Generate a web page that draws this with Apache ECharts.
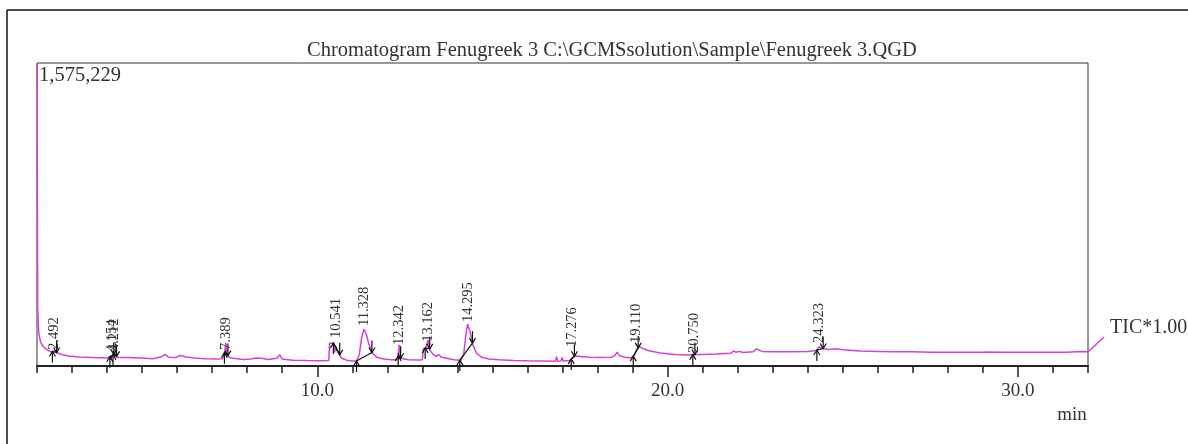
<!DOCTYPE html>
<html>
<head>
<meta charset="utf-8">
<title>Chromatogram Fenugreek 3</title>
<script src="https://cdn.jsdelivr.net/npm/echarts@6/dist/echarts.min.js"></script>
<style>
  html, body { margin: 0; padding: 0; background: #fff; }
  #chart { width: 1188px; height: 444px; }
</style>
</head>
<body>
<div id="chart"></div>
<script>
// 色谱图数据 (时间 min / 强度)
var yMax = 1575229;
var timeMin = [
  2.00, 2.02, 2.05, 2.10, 2.18, 2.30, 2.40, 2.49, 2.56, 2.70, 2.90, 3.20, 3.60, 4.00, 4.10, 4.15, 4.21, 4.30, 4.60,
  5.00, 5.30, 5.55, 5.65, 5.75, 5.95, 6.10, 6.15, 6.25, 6.50, 6.80, 7.10, 7.30, 7.36, 7.39, 7.42, 7.50, 7.60, 7.90,
  8.10, 8.25, 8.40, 8.60, 8.85, 8.93, 9.00, 9.30, 9.70, 10.00, 10.33, 10.35, 10.47, 10.49, 10.54, 10.60, 10.70, 10.85,
  11.00, 11.12, 11.20, 11.27, 11.33, 11.40, 11.48, 11.56, 11.70, 11.90, 12.10, 12.30, 12.34, 12.38, 12.60, 12.90,
  13.00, 13.03, 13.10, 13.16, 13.22, 13.30, 13.40, 13.46, 13.55, 13.70, 13.90, 14.10, 14.18, 14.24, 14.29, 14.36,
  14.44, 14.55, 14.70, 14.90, 15.20, 15.60, 16.00, 16.40, 16.80, 16.83, 16.86, 16.95, 16.99, 17.02, 17.20, 17.28,
  17.35, 17.50, 17.80, 18.10, 18.40, 18.50, 18.56, 18.62, 18.75, 18.95, 19.05, 19.12, 19.20, 19.30, 19.50, 19.80,
  20.20, 20.60, 20.75, 21.00, 21.40, 21.80, 21.88, 21.95, 22.05, 22.15, 22.45, 22.52, 22.60, 22.70, 23.00, 23.50,
  24.00, 24.25, 24.32, 24.40, 24.60, 24.80, 25.00, 25.50, 26.00, 26.50, 27.00, 27.50, 28.00, 28.05, 28.15, 28.60,
  29.00, 29.05, 29.15, 29.60, 30.20, 30.80, 31.40, 31.80, 32.00
];
var intensity = [
  1575229, 300000, 171000, 125000, 100000, 83000, 73000, 78000, 70000, 60000, 52000, 47000, 44000, 42000, 50000, 57000, 62000, 44000, 44000,
  41000, 38000, 48000, 60000, 46000, 44000, 55000, 65000, 47000, 42000, 38000, 36000, 38000, 75000, 120000, 60000, 44000, 40000, 34000,
  36000, 42000, 40000, 34000, 40000, 58000, 36000, 30000, 28000, 27000, 28000, 118000, 120000, 70000, 100000, 70000, 40000, 30000,
  26000, 26000, 60000, 150000, 192000, 165000, 110000, 70000, 45000, 36000, 32000, 33000, 110000, 40000, 32000, 31000,
  33000, 90000, 95000, 135000, 80000, 62000, 50000, 60000, 45000, 40000, 33000, 30000, 60000, 160000, 218000, 180000,
  110000, 65000, 45000, 36000, 32000, 29000, 27000, 26000, 25000, 48000, 25000, 26000, 44000, 26000, 28000, 42000,
  52000, 50000, 46000, 44000, 46000, 55000, 72000, 55000, 47000, 42000, 55000, 88000, 100000, 90000, 78000, 68000,
  60000, 57000, 60000, 60000, 62000, 66000, 78000, 72000, 76000, 70000, 74000, 88000, 84000, 76000, 74000, 74000,
  76000, 80000, 100000, 92000, 86000, 90000, 84000, 78000, 76000, 74000, 74000, 72000, 72000, 80000, 72000, 71000,
  72000, 82000, 73000, 72000, 71000, 71000, 72000, 76000, 74000
];

// 峰表
var peakNames = ["2.492", "4.154", "4.212", "7.389", "10.541", "11.328", "12.342", "13.162", "14.295", "17.276", "19.110", "20.750", "24.323"];
var peakRT    = [2.492, 4.154, 4.212, 7.389, 10.541, 11.328, 12.342, 13.162, 14.295, 17.276, 19.110, 20.750, 24.323];
var peakStart = [2.44, 4.08, 4.17, 7.35, 10.46, 11.12, 12.31, 13.08, 14.07, 17.25, 19.02, 20.72, 24.26];
var peakEnd   = [2.56, 4.19, 4.27, 7.45, 10.64, 11.56, 12.38, 13.21, 14.43, 17.34, 19.16, 20.78, 24.44];
var peakTop   = [68000, 57000, 62000, 68000, 130000, 192000, 94000, 110000, 213000, 83000, 104000, 52000, 104000];

var xTicks = [10, 20, 30];

function valueAt(t) {
  for (var i = 1; i < timeMin.length; i++) {
    if (timeMin[i] >= t) {
      var f = (t - timeMin[i - 1]) / (timeMin[i] - timeMin[i - 1]);
      return intensity[i - 1] + f * (intensity[i] - intensity[i - 1]);
    }
  }
  return intensity[intensity.length - 1];
}

var trace = [];
for (var i = 0; i < timeMin.length; i++) {
  trace.push([timeMin[i], intensity[i]]);
}
var peaks = [];
for (var i = 0; i < peakRT.length; i++) {
  peaks.push([peakRT[i], peakStart[i], peakEnd[i], peakTop[i]]);
}

var serif = '"Liberation Serif", "DejaVu Serif", serif';
var chart = echarts.init(document.getElementById("chart"));

function renderPeak(params, api) {
  var idx = params.dataIndex;
  var s = api.coord([api.value(1), valueAt(api.value(1))]);
  var e = api.coord([api.value(2), valueAt(api.value(2))]);
  var top = api.coord([api.value(0), api.value(3)]);
  var st = { stroke: "#111", lineWidth: 1.2, fill: null };
  return {
    type: "group",
    children: [
      { type: "line", shape: { x1: s[0], y1: s[1], x2: e[0], y2: e[1] }, style: st },
      // 起点 ↑
      { type: "line", shape: { x1: s[0], y1: s[1], x2: s[0], y2: s[1] + 11 }, style: st },
      { type: "polyline", shape: { points: [[s[0] - 3, s[1] + 5], [s[0], s[1]], [s[0] + 3, s[1] + 5]] }, style: st },
      // 终点 ↓
      { type: "line", shape: { x1: e[0], y1: e[1] - 12, x2: e[0], y2: e[1] }, style: st },
      { type: "polyline", shape: { points: [[e[0] - 3, e[1] - 5], [e[0], e[1]], [e[0] + 3, e[1] - 5]] }, style: st },
      {
        type: "text",
        x: top[0],
        y: top[1] - 3,
        rotation: Math.PI / 2,
        style: {
          text: peakNames[idx],
          fill: "#333",
          font: "14.5px " + serif,
          align: "left",
          verticalAlign: "middle"
        }
      }
    ]
  };
}

var option = {
  animation: false,
  backgroundColor: "#fff",
  grid: {
    left: 37, top: 63, right: 100, bottom: 78,
    show: true, borderColor: "#333", borderWidth: 1
  },
  xAxis: [
    {
      type: "value", min: 2, max: 32, interval: 1,
      splitLine: { show: false },
      axisLine: { lineStyle: { color: "#222", width: 2 } },
      axisTick: { length: 7, lineStyle: { color: "#222", width: 1.5 } },
      axisLabel: {
        customValues: xTicks,
        margin: 16,
        color: "#333",
        fontSize: 19,
        fontFamily: serif,
        formatter: function (v) { return v.toFixed(1); }
      }
    },
    {
      type: "value", min: 2, max: 32, position: "bottom",
      splitLine: { show: false },
      axisLine: { show: false },
      axisTick: { customValues: xTicks, length: 11, lineStyle: { color: "#222", width: 1.5 } },
      axisLabel: { show: false }
    }
  ],
  yAxis: {
    type: "value", min: 0, max: yMax,
    show: false, splitLine: { show: false }
  },
  series: [
    {
      type: "line",
      data: trace,
      symbol: "none",
      lineStyle: { color: "#d83fd8", width: 1.5 },
      z: 3
    },
    {
      type: "custom",
      data: peaks,
      renderItem: renderPeak,
      clip: false,
      z: 4
    }
  ],
  graphic: [
    { type: "line", shape: { x1: 7, y1: 10, x2: 1188, y2: 10 }, style: { stroke: "#111", lineWidth: 1.5 } },
    { type: "line", shape: { x1: 7, y1: 10, x2: 7, y2: 444 }, style: { stroke: "#111", lineWidth: 1.5 } },
    {
      type: "text", x: 612, y: 51,
      style: {
        text: "Chromatogram Fenugreek 3 C:\\GCMSsolution\\Sample\\Fenugreek 3.QGD",
        font: "20.5px " + serif, fill: "#333", align: "center", verticalAlign: "middle"
      }
    },
    {
      type: "text", x: 39, y: 76,
      style: { text: yMax.toLocaleString("en-US"), font: "20.5px " + serif, fill: "#333", verticalAlign: "middle" }
    },
    { type: "line", shape: { x1: 1088, y1: 352, x2: 1104, y2: 337 }, style: { stroke: "#d83fd8", lineWidth: 1.5 } },
    {
      type: "text", x: 1110, y: 328,
      style: { text: "TIC*1.00", font: "20px " + serif, fill: "#333", verticalAlign: "middle" }
    },
    {
      type: "text", x: 1072, y: 415,
      style: { text: "min", font: "19px " + serif, fill: "#333", align: "center", verticalAlign: "middle" }
    }
  ]
};

chart.setOption(option);
</script>
</body>
</html>
